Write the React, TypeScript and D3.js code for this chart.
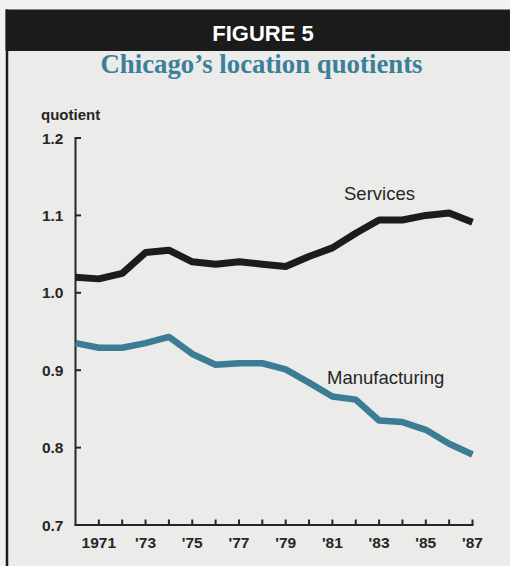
import React from "react";
import * as d3 from "d3";

const years = [1970, 1971, 1972, 1973, 1974, 1975, 1976, 1977, 1978, 1979, 1980, 1981, 1982, 1983, 1984, 1985, 1986, 1987];
const services = [1.020, 1.018, 1.025, 1.052, 1.055, 1.040, 1.037, 1.040, 1.037, 1.034, 1.047, 1.058, 1.077, 1.094, 1.094, 1.100, 1.103, 1.091];
const manufacturing = [0.935, 0.929, 0.929, 0.935, 0.943, 0.921, 0.907, 0.909, 0.909, 0.901, 0.884, 0.866, 0.862, 0.835, 0.833, 0.823, 0.805, 0.791];
const yTicks = [0.7, 0.8, 0.9, 1.0, 1.1, 1.2];
const xTickYears = [1971, 1972, 1973, 1974, 1975, 1976, 1977, 1978, 1979, 1980, 1981, 1982, 1983, 1984, 1985, 1986, 1987];
const xLabelYears = [1971, 1973, 1975, 1977, 1979, 1981, 1983, 1985, 1987];
const xLabels = ["1971", "'73", "'75", "'77", "'79", "'81", "'83", "'85", "'87"];

export default function App() {
  const W = 510, H = 566;
  const x = d3.scaleLinear().domain([1970, 1987]).range([75.5, 472.5]);
  const y = d3.scaleLinear().domain([0.7, 1.2]).range([525, 138]);
  const line = d3.line<number>().x((_, i) => x(years[i])).y((d) => y(d));
  const sans = "'Liberation Sans', Arial, Helvetica, sans-serif";
  const ink = "#262626";
  return (
    <div style={{ position: "absolute", left: 0, top: 0 }}>
      <svg width={W} height={H} style={{ display: "block" }}>
        <rect x={0} y={0} width={W} height={H} fill="#f1f1ef" />
        <rect x={7} y={9.5} width={W - 7} height={H - 9.5} fill="#ebebe9" />
        <rect x={5.5} y={9.5} width={W - 5.5} height={41.5} fill="#1b1b1b" />
        <line x1={7} y1={9.5} x2={7} y2={H} stroke="#1b1b1b" strokeWidth={2.5} />
        <text x={263} y={41} textAnchor="middle" fill="#ffffff" fontFamily={sans} fontWeight="bold" fontSize={22}>FIGURE 5</text>
        <text x={261.5} y={73} textAnchor="middle" fill="#3b7f99" fontFamily="'Liberation Serif', 'Times New Roman', serif" fontWeight="bold" fontSize={26.8}>Chicago’s location quotients</text>

        <text x={41} y={120} fill={ink} fontFamily={sans} fontWeight="bold" fontSize={15}>quotient</text>
        {yTicks.map((t) => (
          <g key={t}>
            <line x1={75.5} x2={81} y1={y(t)} y2={y(t)} stroke={ink} strokeWidth={2} />
            <text x={63.5} y={y(t) + 5.5} textAnchor="end" fill={ink} fontFamily={sans} fontWeight="bold" fontSize={15.5}>{t.toFixed(1)}</text>
          </g>
        ))}
        <line x1={75.5} x2={75.5} y1={y(1.2) - 1} y2={y(0.7)} stroke={ink} strokeWidth={2} />
        <line x1={74.5} x2={x(1987) + 1} y1={y(0.7)} y2={y(0.7)} stroke={ink} strokeWidth={2} />
        {xTickYears.map((t) => (
          <line key={t} x1={x(t)} x2={x(t)} y1={y(0.7)} y2={y(0.7) - 5.5} stroke={ink} strokeWidth={2} />
        ))}
        {xLabelYears.map((t, i) => (
          <text key={t} x={x(t)} y={548} textAnchor="middle" fill={ink} fontFamily={sans} fontWeight="bold" fontSize={15.5}>{xLabels[i]}</text>
        ))}

        <path d={line(manufacturing) || ""} fill="none" stroke="#3b7d95" strokeWidth={6.5} strokeLinejoin="round" />
        <path d={line(services) || ""} fill="none" stroke="#1c1c1c" strokeWidth={7} strokeLinejoin="round" />

        <text x={344} y={200} fill={ink} fontFamily={sans} fontSize={18.5}>Services</text>
        <text x={327} y={384} fill={ink} fontFamily={sans} fontSize={18.5}>Manufacturing</text>
      </svg>
    </div>
  );
}
